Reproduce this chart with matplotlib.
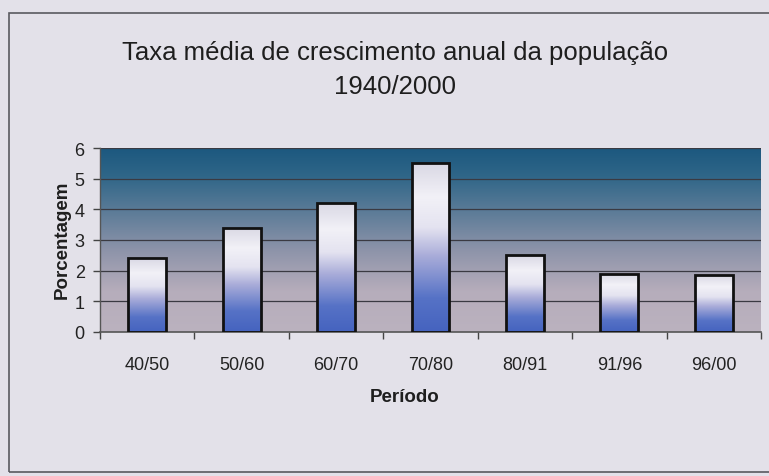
import numpy as np
import matplotlib
matplotlib.use("Agg")
import matplotlib.pyplot as plt
from matplotlib.colors import LinearSegmentedColormap
from matplotlib.patches import Rectangle

plt.rcParams['font.family'] = ['Liberation Sans', 'DejaVu Sans']

title_line1 = "Taxa média de crescimento anual da população"
title_line2 = "1940/2000"
periods = ["40/50", "50/60", "60/70", "70/80", "80/91", "91/96", "96/00"]
rates = [2.4, 3.4, 4.2, 5.5, 2.5, 1.9, 1.85]
y_ticks = [0, 1, 2, 3, 4, 5, 6]
x_label = "Período"
y_label = "Porcentagem"

W, H = 769, 477
fig = plt.figure(figsize=(W / 100, H / 100), dpi=100)
fig.patch.set_facecolor("#e3e1e9")

# outer frame of the chart
frame = Rectangle((9 / W, 1 - 473 / H), 1.2, (473 - 14) / H, transform=fig.transFigure,
                  fill=False, edgecolor="#5a5a60", lw=1.2, clip_on=False)
fig.patches.append(frame)

ax = fig.add_axes([100 / W, 1 - 333 / H, (761 - 100) / W, (333 - 149) / H])

# background gradient of plot area
bg_cmap = LinearSegmentedColormap.from_list(
    "bg", [(0.0, "#bbb2bf"), (0.22, "#b6adbb"), (0.45, "#8c93a9"),
           (0.65, "#5d7c98"), (0.85, "#2f6688"), (1.0, "#1c587f")])
grad = np.linspace(0, 1, 256).reshape(-1, 1)
ax.imshow(grad, cmap=bg_cmap, origin="lower", aspect="auto",
          extent=[-0.5, 6.5, 0, 6], zorder=0)

for yv in y_ticks[1:]:
    ax.axhline(yv, color="#3a3a42", lw=0.9, zorder=1)

x = np.arange(len(periods))
bars = ax.bar(x, rates, width=0.4, facecolor="none", edgecolor="#111111",
              lw=2.0, zorder=3)

bar_cmap = LinearSegmentedColormap.from_list(
    "bar", [(0.0, "#4563bf"), (0.2, "#5672c6"), (0.45, "#a9acd9"),
            (0.62, "#e4e3f0"), (0.8, "#f2f1f7"), (1.0, "#d9d8e4")])
for b in bars:
    x0 = b.get_x()
    w = b.get_width()
    h = b.get_height()
    im = ax.imshow(grad, cmap=bar_cmap, origin="lower", aspect="auto",
                   extent=[x0, x0 + w, 0, h], zorder=2)
    im.set_clip_path(b)

ax.set_xlim(-0.5, 6.5)
ax.set_ylim(0, 6)
ax.set_yticks(y_ticks)
ax.set_yticklabels([str(v) for v in y_ticks], fontsize=13, color="#222222")
ax.set_xticks(x)
ax.set_xticklabels(periods, fontsize=13, color="#222222")
ax.set_xticks(np.arange(-0.5, 7, 1), minor=True)
ax.tick_params(axis="x", which="major", length=0, pad=17)
ax.tick_params(axis="x", which="minor", length=5, width=1, color="#444444", direction="out")
ax.tick_params(axis="y", length=5, width=1, color="#444444", pad=6)

for s in ["top", "right"]:
    ax.spines[s].set_visible(False)
ax.spines["left"].set_color("#555555")
ax.spines["bottom"].set_color("#555555")
ax.spines["left"].set_linewidth(1)
ax.spines["bottom"].set_linewidth(1.2)

fig.text(395 / W, 1 - 53 / H, title_line1, ha="center", va="center",
         fontsize=18.5, color="#1e1e1e")
fig.text(395 / W, 1 - 87 / H, title_line2, ha="center", va="center",
         fontsize=18.5, color="#1e1e1e")
fig.text(62 / W, 1 - 240 / H, y_label, rotation=90, ha="center", va="center",
         fontsize=13.5, fontweight="bold", color="#1e1e1e")
fig.text(405 / W, 1 - 398 / H, x_label, ha="center", va="center",
         fontsize=13.5, fontweight="bold", color="#1e1e1e")

fig.savefig("out.png", dpi=100, facecolor=fig.get_facecolor())
